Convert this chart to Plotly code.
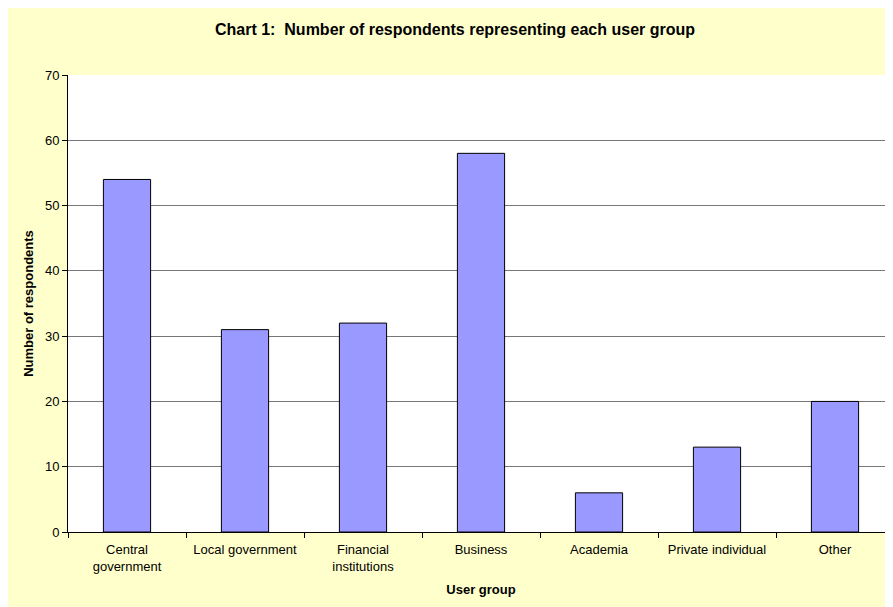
import plotly.graph_objects as go

categories = ["Central<br>government", "Local government", "Financial<br>institutions",
              "Business", "Academia", "Private individual", "Other"]
respondents = [54, 31, 32, 58, 6, 13, 20]
y_ticks = [0, 10, 20, 30, 40, 50, 60, 70]

W, H = 893, 607
# page is offset by the 8px body margin; positions below are in figure coords
ml, mr, mt, mb = 60, 7, 67, 83

font = "Liberation Sans, Arial, sans-serif"

fig = go.Figure(go.Bar(
    x=categories, y=respondents,
    marker=dict(color="#9999FF", line=dict(color="#000000", width=1)),
))

fig.update_layout(
    width=W, height=H,
    margin=dict(l=ml, r=mr, t=mt, b=mb),
    paper_bgcolor="#FFFFCC",
    plot_bgcolor="#FFFFFF",
    bargap=0.6,
    showlegend=False,
    font=dict(family=font, size=13, color="#000000"),
    title=dict(text="<b>Chart 1:&nbsp; Number of respondents representing each user group</b>",
               x=447 / W, xanchor="center", y=1 - 21 / H, yanchor="middle",
               font=dict(size=16, family=font)),
)

fig.update_xaxes(
    title=dict(text="<b>User group</b>", font=dict(size=13), standoff=12),
    showline=True, linecolor="#000000", linewidth=1,
    ticks="outside", tickson="boundaries", ticklen=5, tickcolor="#000000",
    ticklabelstandoff=5,
    showgrid=False, tickfont=dict(size=13),
)
fig.update_yaxes(
    title=dict(text="<b>Number of respondents</b>", font=dict(size=13), standoff=8),
    range=[0, 70], tickvals=y_ticks,
    showline=True, linecolor="#000000", linewidth=1,
    ticks="outside", ticklen=5, tickcolor="#000000",
    showgrid=True, gridcolor="#777777", gridwidth=1,
    zeroline=False, tickfont=dict(size=13),
)

fig.write_html("out.html")
